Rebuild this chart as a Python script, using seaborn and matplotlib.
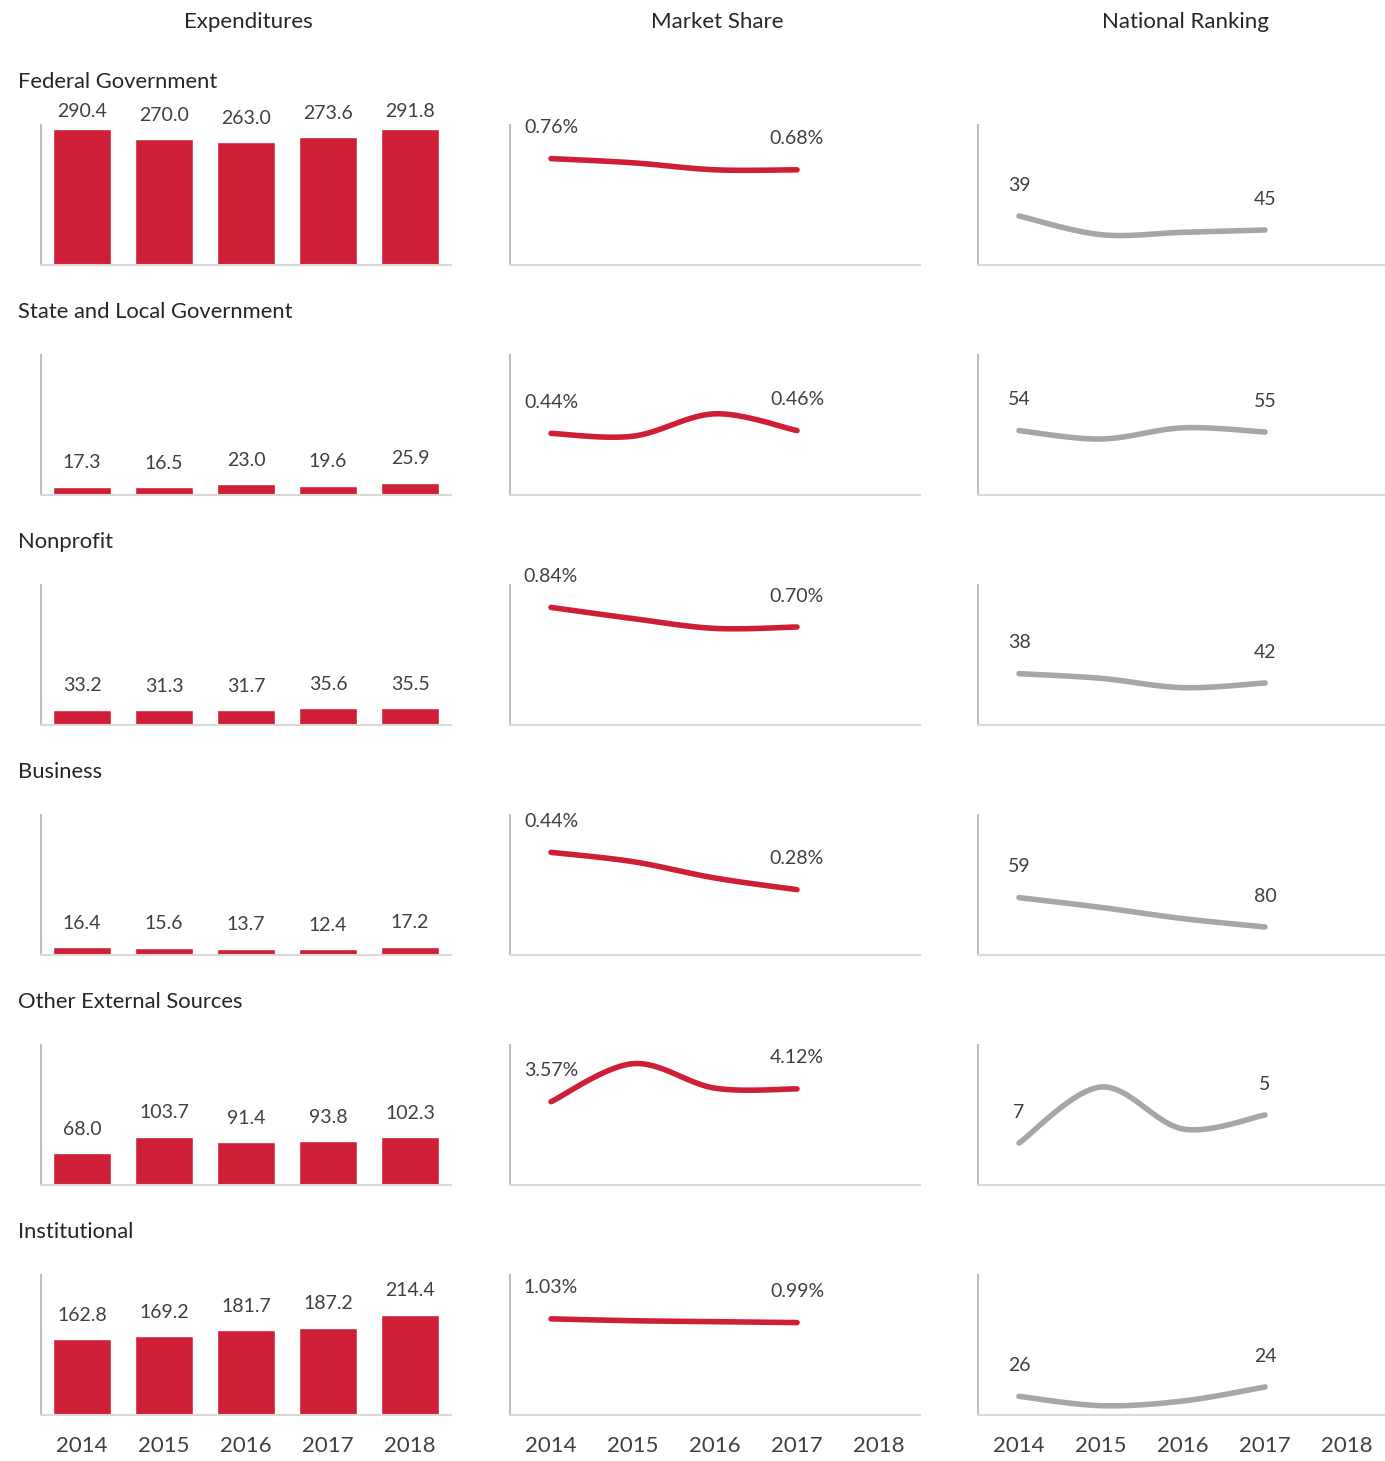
import numpy as np
import pandas as pd
import matplotlib
matplotlib.use("Agg")
import matplotlib.pyplot as plt
import seaborn as sns

sns.set_style("white")
plt.rcParams['font.family'] = ['Lato', 'DejaVu Sans']

years = ["2014", "2015", "2016", "2017", "2018"]
sources = ["Federal Government", "State and Local Government", "Nonprofit",
           "Business", "Other External Sources", "Institutional"]

# expenditures (bars)
exp_federal = [290.4, 270.0, 263.0, 273.6, 291.8]
exp_state = [17.3, 16.5, 23.0, 19.6, 25.9]
exp_nonprofit = [33.2, 31.3, 31.7, 35.6, 35.5]
exp_business = [16.4, 15.6, 13.7, 12.4, 17.2]
exp_other = [68.0, 103.7, 91.4, 93.8, 102.3]
exp_inst = [162.8, 169.2, 181.7, 187.2, 214.4]

# market share in % (2014-2017), middle years estimated from the curves
ms_federal = [0.76, 0.73, 0.68, 0.68]
ms_state = [0.44, 0.42, 0.58, 0.46]
ms_nonprofit = [0.84, 0.76, 0.69, 0.70]
ms_business = [0.44, 0.40, 0.33, 0.28]
ms_other = [3.57, 5.20, 4.15, 4.12]
ms_inst = [1.03, 1.01, 1.00, 0.99]

# national ranking (2014-2017)
rk_federal = [39, 47, 46, 45]
rk_state = [54, 60, 52, 55]
rk_nonprofit = [38, 40, 44, 42]
rk_business = [59, 66, 74, 80]
rk_other = [7, 3, 6, 5]
rk_inst = [26, 28, 27, 24]

exp_all = [exp_federal, exp_state, exp_nonprofit, exp_business, exp_other, exp_inst]
ms_all = [ms_federal, ms_state, ms_nonprofit, ms_business, ms_other, ms_inst]
rk_all = [rk_federal, rk_state, rk_nonprofit, rk_business, rk_other, rk_inst]
ms_top = [1.0, 1.0, 1.0, 0.6, 6.0, 1.5]
rk_bottom = [60, 100, 60, 100, 10, 30]

RED = "#CF1F37"
GREY = "#A6A6A6"
TXT = "#404040"

W, H = 1385, 1461
fig = plt.figure(figsize=(W / 100, H / 100), dpi=100)


def smooth(ys, n=30):
    # excel style smoothed line (catmull-rom bezier)
    p = np.column_stack([np.arange(len(ys), dtype=float), np.asarray(ys, dtype=float)])
    pp = np.vstack([p[0], p, p[-1]])
    out = []
    t = np.linspace(0, 1, n)[:, None]
    for i in range(len(p) - 1):
        p0, p1, p2, p3 = pp[i], pp[i + 1], pp[i + 2], pp[i + 3]
        c1 = p1 + (p2 - p0) / 6
        c2 = p2 - (p3 - p1) / 6
        seg = (1 - t) ** 3 * p1 + 3 * (1 - t) ** 2 * t * c1 + 3 * (1 - t) * t ** 2 * c2 + t ** 3 * p2
        out.append(seg if i == 0 else seg[1:])
    return np.vstack(out)


def style_ax(ax, last):
    for s in ["top", "right"]:
        ax.spines[s].set_visible(False)
    ax.spines["left"].set_color("#BFBFBF")
    ax.spines["bottom"].set_color("#D9D9D9")
    ax.spines["left"].set_linewidth(1.5)
    ax.spines["bottom"].set_linewidth(1.5)
    ax.set_yticks([])
    ax.set_xlabel("")
    ax.set_ylabel("")
    ax.tick_params(axis="x", length=0, pad=15, labelsize=16, labelcolor=TXT)
    if not last:
        ax.set_xticklabels([])


col_left = [41, 510, 978]
ax_w = 410
ax_h = 140
for r in range(6):
    top = 125 + 230 * r
    last = r == 5
    axes = [fig.add_axes([x / W, 1 - (top + ax_h) / H, ax_w / W, ax_h / H]) for x in col_left]

    # expenditures
    ax = axes[0]
    df = pd.DataFrame({"year": years, "val": exp_all[r]})
    sns.barplot(data=df, x="year", y="val", order=years, color=RED, width=0.71,
                saturation=1, ax=ax)
    ax.set_xlim(-0.5, 4.5)
    ax.set_ylim(0, 300)
    for i, v in enumerate(exp_all[r]):
        ax.text(i, min(v + 51.4, 328), f"{v:.1f}", ha="center", va="center",
                fontsize=14, color=TXT, clip_on=False)
    style_ax(ax, last)

    # market share
    ax = axes[1]
    cur = smooth(ms_all[r])
    sns.lineplot(x=cur[:, 0], y=cur[:, 1], color=RED, lw=4, sort=False,
                 solid_capstyle="round", ax=ax)
    ax.set_xlim(-0.5, 4.5)
    ax.set_ylim(0, ms_top[r])
    ax.set_xticks(range(5))
    ax.set_xticklabels(years)
    for i in [0, 3]:
        ax.annotate(f"{ms_all[r][i]:.2f}%", (i, ms_all[r][i]), xytext=(0, 22.3),
                    textcoords="offset points", ha="center", va="center",
                    fontsize=14, color=TXT, annotation_clip=False)
    style_ax(ax, last)

    # national ranking
    ax = axes[2]
    cur = smooth(rk_all[r])
    sns.lineplot(x=cur[:, 0], y=cur[:, 1], color=GREY, lw=4, sort=False,
                 solid_capstyle="round", ax=ax)
    ax.set_xlim(-0.5, 4.5)
    ax.set_ylim(rk_bottom[r], 0)
    ax.set_xticks(range(5))
    ax.set_xticklabels(years)
    for i in [0, 3]:
        ax.annotate(f"{rk_all[r][i]}", (i, rk_all[r][i]), xytext=(0, 22.3),
                    textcoords="offset points", ha="center", va="center",
                    fontsize=14, color=TXT, annotation_clip=False)
    style_ax(ax, last)

    fig.text(18 / W, 1 - (82 + 230 * r) / H, sources[r], ha="left", va="center",
             fontsize=15.8, color="#262626")

for x, t in zip([248, 717, 1185], ["Expenditures", "Market Share", "National Ranking"]):
    fig.text(x / W, 1 - 22 / H, t, ha="center", va="center", fontsize=16, color="#262626")

fig.savefig("out.png", dpi=100)
